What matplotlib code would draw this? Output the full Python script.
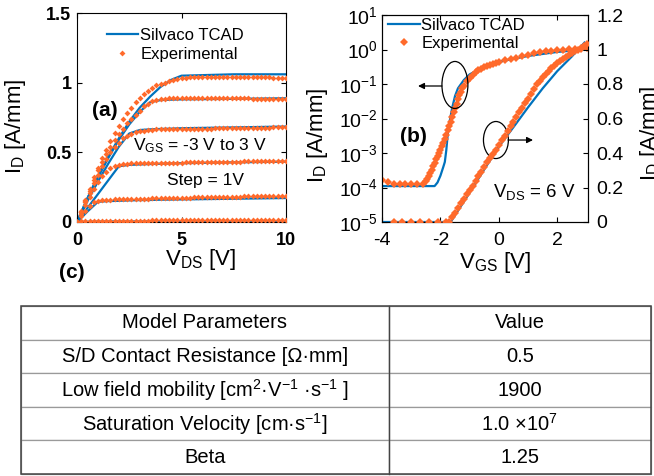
"""
Output characteristics, transfer characteristics and model parameter table.
"""

import matplotlib
matplotlib.use('Agg')
import matplotlib.pyplot as plt
from matplotlib.patches import Ellipse, Rectangle

# Style settings
plt.rcParams['font.family'] = ['Liberation Sans', 'DejaVu Sans']
plt.rcParams['mathtext.fontset'] = 'custom'
plt.rcParams['mathtext.rm'] = 'Liberation Sans'
plt.rcParams['mathtext.it'] = 'Liberation Sans:italic'
plt.rcParams['mathtext.bf'] = 'Liberation Sans:bold'
COLORS = {'sim': '#0072BD', 'exp': '#FF6A2B'}

# ---- (a) output characteristics, VGS = -2 V ... 3 V ----
VDS_SIM = [0.0, 0.5, 1.0, 1.5, 2.0, 2.5, 3.0, 3.5, 4.0, 4.5, 5.0, 7.5, 10.0]
ID_SIM_M2 = [0.0, 0.002, 0.003, 0.004, 0.004, 0.004, 0.004, 0.004, 0.004, 0.004, 0.005, 0.005, 0.005]
ID_SIM_M1 = [0.0, 0.075, 0.145, 0.15, 0.152, 0.155, 0.157, 0.158, 0.16, 0.161, 0.162, 0.167, 0.172]
ID_SIM_0 = [0.0, 0.1, 0.2, 0.3, 0.40, 0.41, 0.413, 0.416, 0.418, 0.42, 0.422, 0.428, 0.433]
ID_SIM_P1 = [0.0, 0.15, 0.29, 0.42, 0.54, 0.635, 0.66, 0.665, 0.668, 0.67, 0.673, 0.679, 0.685]
ID_SIM_P2 = [0.0, 0.17, 0.32, 0.46, 0.59, 0.70, 0.79, 0.86, 0.875, 0.878, 0.88, 0.884, 0.888]
ID_SIM_P3 = [0.0, 0.17, 0.33, 0.47, 0.60, 0.72, 0.82, 0.90, 0.97, 1.02, 1.05, 1.06, 1.06]

VDS_EXP = [0.0, 0.2, 0.4, 0.6, 0.8, 1.0, 1.2, 1.4, 1.6, 1.8,
           2.0, 2.2, 2.4, 2.6, 2.8, 3.0, 3.2, 3.4, 3.6, 3.8,
           4.0, 4.2, 4.4, 4.6, 4.8, 5.0, 5.2, 5.4, 5.6, 5.8,
           6.0, 6.2, 6.4, 6.6, 6.8, 7.0, 7.2, 7.4, 7.6, 7.8,
           8.0, 8.2, 8.4, 8.6, 8.8, 9.0, 9.2, 9.4, 9.6, 9.8, 10.0]
ID_EXP_M2 = [0.0, 0.006, 0.008, 0.009, 0.010, 0.010, 0.010, 0.010, 0.010, 0.010,
             0.010, 0.010, 0.010, 0.010, 0.010, 0.010, 0.010, 0.010, 0.011, 0.011,
             0.011, 0.011, 0.011, 0.011, 0.011, 0.011, 0.011, 0.011, 0.011, 0.011,
             0.012, 0.012, 0.012, 0.012, 0.012, 0.012, 0.012, 0.012, 0.012, 0.012,
             0.012, 0.012, 0.013, 0.013, 0.013, 0.013, 0.013, 0.013, 0.013, 0.013, 0.013]
ID_EXP_M1 = [0.0, 0.04, 0.08, 0.115, 0.14, 0.15, 0.155, 0.158, 0.16, 0.162,
             0.163, 0.164, 0.165, 0.166, 0.166, 0.167, 0.168, 0.168, 0.169, 0.17,
             0.17, 0.171, 0.172, 0.172, 0.173, 0.174, 0.174, 0.175, 0.176, 0.176,
             0.177, 0.178, 0.178, 0.179, 0.18, 0.18, 0.181, 0.182, 0.182, 0.183,
             0.184, 0.184, 0.185, 0.186, 0.186, 0.187, 0.188, 0.188, 0.189, 0.19, 0.19]
ID_EXP_0 = [0.0, 0.06, 0.12, 0.18, 0.24, 0.29, 0.33, 0.36, 0.385, 0.40,
            0.41, 0.415, 0.418, 0.42, 0.421, 0.422, 0.423, 0.423, 0.424, 0.424,
            0.425, 0.425, 0.426, 0.426, 0.427, 0.427, 0.428, 0.428, 0.429, 0.429,
            0.43, 0.43, 0.431, 0.431, 0.432, 0.432, 0.433, 0.433, 0.434, 0.434,
            0.435, 0.435, 0.436, 0.436, 0.437, 0.437, 0.438, 0.438, 0.439, 0.439, 0.44]
ID_EXP_P1 = [0.0, 0.07, 0.14, 0.21, 0.28, 0.34, 0.40, 0.45, 0.50, 0.54,
             0.57, 0.60, 0.62, 0.635, 0.645, 0.652, 0.656, 0.66, 0.662, 0.664,
             0.665, 0.666, 0.666, 0.667, 0.667, 0.668, 0.668, 0.669, 0.669, 0.67,
             0.67, 0.671, 0.671, 0.672, 0.672, 0.673, 0.673, 0.674, 0.674, 0.675,
             0.675, 0.676, 0.676, 0.677, 0.677, 0.678, 0.678, 0.679, 0.679, 0.68, 0.68]
ID_EXP_P2 = [0.0, 0.075, 0.15, 0.225, 0.30, 0.37, 0.43, 0.49, 0.54, 0.59,
             0.63, 0.67, 0.71, 0.74, 0.77, 0.80, 0.83, 0.85, 0.865, 0.875,
             0.882, 0.886, 0.888, 0.89, 0.89, 0.89, 0.89, 0.89, 0.89, 0.89,
             0.89, 0.89, 0.89, 0.89, 0.89, 0.89, 0.889, 0.889, 0.888, 0.888,
             0.887, 0.887, 0.886, 0.886, 0.885, 0.885, 0.884, 0.884, 0.883, 0.882, 0.881]
ID_EXP_P3 = [0.0, 0.08, 0.16, 0.24, 0.32, 0.39, 0.46, 0.52, 0.58, 0.64,
             0.69, 0.74, 0.78, 0.82, 0.86, 0.89, 0.92, 0.94, 0.96, 0.98,
             0.99, 1.00, 1.01, 1.02, 1.025, 1.03, 1.035, 1.038, 1.04, 1.04,
             1.042, 1.042, 1.043, 1.043, 1.043, 1.043, 1.043, 1.043, 1.042, 1.042,
             1.042, 1.041, 1.041, 1.04, 1.04, 1.039, 1.038, 1.037, 1.036, 1.034, 1.032]

SIM_CURVES = [ID_SIM_M2, ID_SIM_M1, ID_SIM_0, ID_SIM_P1, ID_SIM_P2, ID_SIM_P3]
EXP_CURVES = [ID_EXP_M2, ID_EXP_M1, ID_EXP_0, ID_EXP_P1, ID_EXP_P2, ID_EXP_P3]

# ---- (b) transfer characteristics at VDS = 6 V ----
VGS_SIM_LOG = [-4.0, -2.2, -2.1, -2.0, -1.9, -1.85, -1.8, -1.75, -1.7, -1.6,
               -1.5, -1.4, -1.2, -1.0, -0.5, 0.0, 1.0, 2.0, 2.93]
ID_SIM_LOG = [1.1e-4, 1.1e-4, 1.4e-4, 2.2e-4, 4e-4, 5.5e-4, 1.2e-3, 3.5e-3, 7e-3, 2e-2,
              4.5e-2, 7.5e-2, 0.13, 0.19, 0.32, 0.44, 0.65, 0.85, 1.0]
VGS_SIM_LIN = [-4.0, -1.65, -1.0, -0.5, 0.0, 0.5, 1.0, 1.5, 2.0, 2.5, 2.93]
ID_SIM_LIN = [0.0, 0.0, 0.17, 0.305, 0.437, 0.55, 0.665, 0.775, 0.875, 0.96, 1.04]

VGS_EXP_LOG = [-4.0, -3.8, -3.6, -3.4, -3.2, -3.0, -2.8, -2.6, -2.5, -2.45,
               -2.4, -2.35, -2.3, -2.25, -2.2, -2.15, -2.1, -2.05, -2.0, -1.95,
               -1.9, -1.85, -1.8, -1.75, -1.7, -1.65, -1.6, -1.55, -1.5, -1.45,
               -1.4, -1.35, -1.3, -1.25, -1.2, -1.1, -1.0, -0.9, -0.8, -0.7,
               -0.6, -0.5, -0.4, -0.3, -0.2, -0.1, 0.0, 0.2, 0.4, 0.6,
               0.8, 1.0, 1.2, 1.4, 1.6, 1.8, 2.0, 2.2, 2.4, 2.6, 2.8, 3.0]
ID_EXP_LOG = [1.7e-4, 1.4e-4, 1.3e-4, 1.3e-4, 1.25e-4, 1.25e-4, 1.25e-4, 1.3e-4, 1.5e-4, 1.75e-4,
              2.1e-4, 2.6e-4, 3.3e-4, 4.2e-4, 5.3e-4, 6.6e-4, 8.2e-4, 1.0e-3, 1.25e-3, 1.6e-3,
              2.0e-3, 2.6e-3, 3.4e-3, 4.5e-3, 6e-3, 8e-3, 1.1e-2, 1.5e-2, 2e-2, 2.7e-2,
              3.6e-2, 4.7e-2, 6e-2, 7.5e-2, 9e-2, 0.12, 0.15, 0.18, 0.22, 0.25,
              0.28, 0.31, 0.33, 0.36, 0.39, 0.41, 0.44, 0.48, 0.52, 0.58,
              0.64, 0.70, 0.77, 0.83, 0.88, 0.92, 0.96, 0.99, 1.02, 1.04, 1.06, 1.08]

VGS_EXP_LIN = [-3.6, -3.3, -3.0, -2.7, -2.4, -2.1, -1.8, -1.7, -1.6, -1.5,
               -1.4, -1.3, -1.2, -1.1, -1.0, -0.9, -0.8, -0.7, -0.6, -0.5,
               -0.4, -0.3, -0.2, -0.1, 0.0, 0.1, 0.2, 0.3, 0.4, 0.5,
               0.6, 0.7, 0.8, 0.9, 1.0, 1.1, 1.2, 1.3, 1.4, 1.5,
               1.6, 1.7, 1.8, 1.9, 2.0, 2.1, 2.2, 2.3, 2.4, 2.5,
               2.6, 2.7, 2.8, 2.9, 3.0]
ID_EXP_LIN = [0.0, 0.0, 0.0, 0.0, 0.0, 0.0, 0.0, 0.0, 0.027, 0.054,
              0.081, 0.108, 0.135, 0.16, 0.185, 0.21, 0.238, 0.265, 0.292, 0.32,
              0.345, 0.37, 0.395, 0.42, 0.447, 0.475, 0.50, 0.528, 0.555, 0.58,
              0.608, 0.635, 0.662, 0.69, 0.715, 0.74, 0.77, 0.80, 0.82, 0.84,
              0.86, 0.875, 0.89, 0.905, 0.92, 0.932, 0.945, 0.957, 0.97, 0.98,
              0.99, 1.0, 1.01, 1.02, 1.03]

# ---- (c) model parameter table ----
TABLE_HEADER = ['Model Parameters', 'Value']
PARAM_NAMES = ['S/D Contact Resistance [\u03a9\u00b7mm]',
               'Low field mobility [cm$^{2}$\u00b7V$^{-1}$ \u00b7s$^{-1}$ ]',
               'Saturation Velocity [cm\u00b7s$^{-1}$]',
               'Beta']
PARAM_VALUES = ['0.5', '1900', r'1.0 $\times$10$^{7}$', '1.25']


def style_axis(ax, labelsize, bold=False):
    ax.tick_params(direction='in', length=3.5, width=0.8, labelsize=labelsize)
    for lab in ax.get_xticklabels() + ax.get_yticklabels():
        lab.set_fontweight('bold' if bold else 'normal')
    for sp in ax.spines.values():
        sp.set_linewidth(0.8)


fig = plt.figure(figsize=(6.54, 4.76), dpi=100)

# Panel (a)
ax_a = fig.add_axes([77 / 654, 254 / 476, 209 / 654, 209 / 476])
for sim in SIM_CURVES:
    ax_a.plot(VDS_SIM, sim, color=COLORS['sim'], linewidth=1.6, zorder=2)
for exp in EXP_CURVES:
    ax_a.plot(VDS_EXP, exp, linestyle='none', marker='D', markersize=3,
              markeredgewidth=0, color=COLORS['exp'], zorder=3)
ax_a.set_xlim(0, 10)
ax_a.set_ylim(0, 1.5)
ax_a.set_xticks([0, 5, 10])
ax_a.set_yticks([0, 0.5, 1, 1.5])
ax_a.set_yticklabels(['0', '0.5', '1', '1.5'])
ax_a.tick_params(top=True, right=True)
style_axis(ax_a, 13, bold=True)
ax_a.tick_params(axis='y', pad=4)
ax_a.tick_params(axis='x', pad=7)
ax_a.set_xlabel(r'V$_{\rm DS}$ [V]', fontsize=16)
ax_a.set_ylabel(r'I$_{\rm D}$ [A/mm]', fontsize=16)
ax_a.xaxis.set_label_coords(0.59, -0.12)
ax_a.yaxis.set_label_coords(-0.235, 0.46)

h_sim, = ax_a.plot([], [], color=COLORS['sim'], linewidth=1.6, label='Silvaco TCAD')
h_exp, = ax_a.plot([], [], linestyle='none', marker='D', markersize=3,
                   markeredgewidth=0, color=COLORS['exp'], label='Experimental')
ax_a.legend(handles=[h_sim, h_exp], loc='upper left', bbox_to_anchor=(107 / 654, 1 - 28 / 476),
            bbox_transform=fig.transFigure, frameon=False, fontsize=12, borderpad=0,
            borderaxespad=0, handlelength=1.85, handletextpad=0.15, labelspacing=0.26)

fig.text(105 / 654, 1 - 110 / 476, '(a)', fontsize=15, fontweight='bold', ha='center', va='center')
fig.text(133 / 654, 1 - 146 / 476, r'V$_{\rm GS}$ = -3 V to 3 V', fontsize=12.5, ha='left', va='center')
fig.text(167 / 654, 1 - 181 / 476, 'Step = 1V', fontsize=12.5, ha='left', va='center')
fig.text(72 / 654, 1 - 272 / 476, '(c)', fontsize=15, fontweight='bold', ha='center', va='center')

# Panel (b)
ax_b = fig.add_axes([382 / 654, 254 / 476, 206 / 654, 207 / 476])
ax_b.plot(VGS_SIM_LOG, ID_SIM_LOG, color=COLORS['sim'], linewidth=1.6, zorder=2)
ax_b.plot(VGS_EXP_LOG, ID_EXP_LOG, linestyle='none', marker='D', markersize=4.5,
          markeredgewidth=0, color=COLORS['exp'], zorder=3)
ax_b.set_yscale('log')
ax_b.set_ylim(1e-5, 1e1)
ax_b.set_xlim(-4, 3.05)
ax_b.set_xticks([-4, -2, 0, 2])
ax_b.set_xticklabels(['-4', '-2', '0', '2'])
ax_b.set_yticks([1e-5, 1e-4, 1e-3, 1e-2, 1e-1, 1e0, 1e1])
ax_b.tick_params(top=True)
ax_b.tick_params(which='minor', direction='in', length=2, width=0.6)
style_axis(ax_b, 14)
ax_b.tick_params(axis='x', pad=7)
ax_b.tick_params(axis='y', pad=3)
ax_b.set_xlabel(r'V$_{\rm GS}$ [V]', fontsize=16)
ax_b.set_ylabel(r'I$_{\rm D}$ [A/mm]', fontsize=16)
ax_b.xaxis.set_label_coords(0.55, -0.135)
ax_b.yaxis.set_label_coords(-0.25, 0.42)

ax_r = ax_b.twinx()
ax_r.plot(VGS_SIM_LIN, ID_SIM_LIN, color=COLORS['sim'], linewidth=1.6, zorder=2)
ax_r.plot(VGS_EXP_LIN, ID_EXP_LIN, linestyle='none', marker='D', markersize=4.5,
          markeredgewidth=0, color=COLORS['exp'], zorder=3)
ax_r.set_ylim(0, 1.2)
ax_r.set_yticks([0, 0.2, 0.4, 0.6, 0.8, 1.0, 1.2])
ax_r.set_yticklabels(['0', '0.2', '0.4', '0.6', '0.8', '1', '1.2'])
style_axis(ax_r, 14)
ax_r.tick_params(axis='y', pad=6)
ax_r.set_ylabel(r'I$_{\rm D}$ [A/mm]', fontsize=16)
ax_r.yaxis.set_label_coords(1.245, 0.43)

h_sim_b, = ax_r.plot([], [], color=COLORS['sim'], linewidth=1.6, label='Silvaco TCAD')
h_exp_b, = ax_r.plot([], [], linestyle='none', marker='D', markersize=4.5,
                     markeredgewidth=0, color=COLORS['exp'], label='Experimental')
ax_r.legend(handles=[h_sim_b, h_exp_b], loc='upper left', bbox_to_anchor=(388 / 654, 1 - 18 / 476),
            bbox_transform=fig.transFigure, frameon=False, fontsize=12, borderpad=0,
            borderaxespad=0, handlelength=1.9, handletextpad=0.1, labelspacing=0.2)

# Ellipses and arrows pointing at the relevant axis
ax_r.add_patch(Ellipse((0.354, 0.662), 0.126, 0.227, transform=ax_r.transAxes,
                       fill=False, edgecolor='black', linewidth=0.9))
ax_r.add_patch(Ellipse((0.553, 0.396), 0.121, 0.179, transform=ax_r.transAxes,
                       fill=False, edgecolor='black', linewidth=0.9))
ax_r.annotate('', xy=(0.175, 0.657), xytext=(0.291, 0.657), xycoords='axes fraction',
              arrowprops=dict(arrowstyle='-|>', color='black', lw=0.9, mutation_scale=9,
                              shrinkA=0, shrinkB=0))
ax_r.annotate('', xy=(0.733, 0.396), xytext=(0.612, 0.396), xycoords='axes fraction',
              arrowprops=dict(arrowstyle='-|>', color='black', lw=0.9, mutation_scale=9,
                              shrinkA=0, shrinkB=0))

fig.text(413 / 654, 1 - 136 / 476, '(b)', fontsize=15, fontweight='bold', ha='center', va='center')
fig.text(493 / 654, 1 - 192 / 476, r'V$_{\rm DS}$ = 6 V', fontsize=13.5, ha='left', va='center')

# Table (c)
ax_t = fig.add_axes([21 / 654, 2 / 476, 630 / 654, 168 / 476])
ax_t.axis('off')
rows = [[name, val] for name, val in zip(PARAM_NAMES, PARAM_VALUES)]
tbl = ax_t.table(cellText=rows, colLabels=TABLE_HEADER, colWidths=[0.584, 0.416],
                 cellLoc='center', bbox=[0, 0, 1, 1])
tbl.auto_set_font_size(False)
tbl.set_fontsize(14.5)
for cell in tbl.get_celld().values():
    cell.set_edgecolor('#9a9a9a')
    cell.set_linewidth(0.9)
# darker outer frame and column divider
ax_t.add_patch(Rectangle((0, 0), 1, 1, fill=False, edgecolor='#444444', linewidth=1.1,
                         transform=ax_t.transAxes, clip_on=False, zorder=5))
ax_t.plot([0.584, 0.584], [0, 1], color='#444444', linewidth=1.0,
          transform=ax_t.transAxes, clip_on=False, zorder=5)

plt.savefig('out.png', dpi=100)
plt.close()
